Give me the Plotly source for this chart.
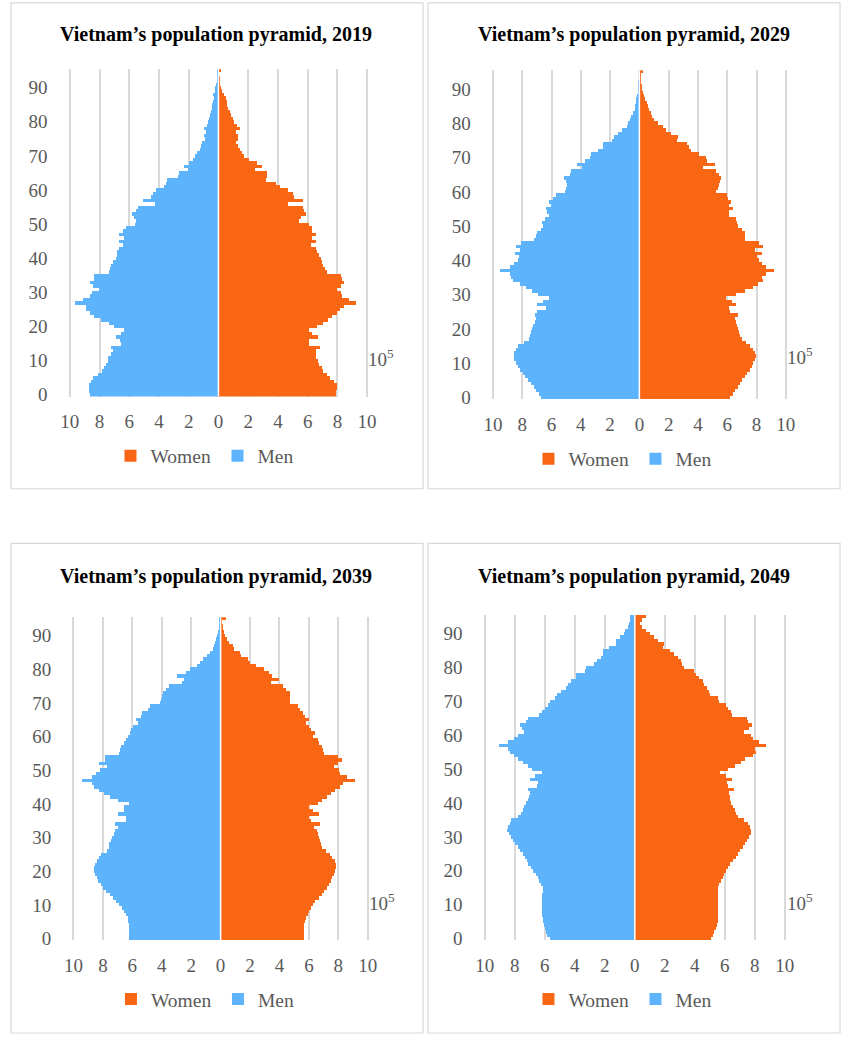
import plotly.graph_objects as go

# ---------------- data (units of 10^5 persons), ages 0..95 ----------------
ages = list(range(96))

men_2019 = [
    8.65, 8.70, 8.72, 8.70, 8.55, 8.40, 8.06, 7.78, 7.67, 7.56,
    7.44, 7.40, 7.22, 7.10, 7.22, 6.52, 6.60, 6.90, 6.52, 6.30,
    7.00, 7.33, 7.88, 8.33, 8.60, 8.87, 8.90, 9.65, 9.10, 8.60,
    8.50, 8.00, 8.43, 8.65, 8.33, 8.33, 7.33, 7.27, 7.22, 7.10,
    6.90, 6.83, 6.78, 6.67, 6.40, 6.67, 6.34, 6.67, 6.40, 6.20,
    5.60, 5.50, 5.64, 5.80, 5.50, 5.42, 4.25, 5.07, 4.54, 4.36,
    4.18, 3.66, 3.48, 3.44, 2.70, 2.64, 2.05, 2.33, 1.98, 1.67,
    1.56, 1.39, 1.23, 1.17, 1.06, 0.88, 0.95, 0.84, 0.95, 0.73,
    0.66, 0.62, 0.55, 0.50, 0.44, 0.40, 0.35, 0.29, 0.33, 0.22,
    0.18, 0.13, 0.11, 0.07, 0.05, 0.05,
]
women_2019 = [
    7.93, 7.95, 8.00, 8.00, 7.78, 7.55, 7.33, 7.07, 6.96, 6.78,
    6.74, 6.60, 6.56, 6.60, 6.83, 6.12, 6.08, 6.74, 6.34, 6.08,
    6.67, 7.07, 7.40, 7.67, 8.00, 8.22, 8.50, 9.25, 8.77, 8.33,
    8.28, 8.00, 8.28, 8.50, 8.33, 8.28, 7.33, 7.22, 7.07, 6.96,
    6.90, 6.78, 6.67, 6.56, 6.23, 6.56, 6.30, 6.60, 6.30, 6.34,
    6.08, 5.46, 5.57, 5.90, 5.79, 5.68, 4.69, 5.68, 5.13, 5.02,
    4.69, 4.14, 3.88, 3.22, 3.26, 3.26, 2.49, 2.93, 2.60, 2.05,
    1.72, 1.60, 1.45, 1.34, 1.23, 1.32, 1.32, 1.17, 1.45, 1.28,
    1.10, 1.01, 0.88, 0.79, 0.68, 0.62, 0.57, 0.55, 0.40, 0.29,
    0.18, 0.11, 0.09, 0.07, 0.05, 0.18,
]
men_2029 = [
    6.73, 6.90, 7.07, 7.23, 7.45, 7.63, 7.83, 8.00, 8.19, 8.34,
    8.46, 8.57, 8.61, 8.57, 8.46, 8.34, 7.90, 7.60, 7.52, 7.45,
    7.34, 7.27, 7.16, 7.07, 7.16, 7.00, 6.44, 7.00, 6.62, 6.22,
    6.94, 7.34, 7.79, 8.17, 8.64, 8.79, 8.84, 9.53, 8.90, 8.57,
    8.34, 8.23, 8.50, 8.19, 8.46, 8.15, 7.20, 7.10, 7.00, 6.75,
    6.65, 6.67, 6.49, 6.22, 6.33, 6.40, 6.04, 6.22, 5.95, 5.73,
    5.10, 5.06, 5.00, 5.06, 5.20, 4.77, 4.70, 3.94, 4.32, 3.72,
    3.42, 3.31, 2.86, 2.53, 2.53, 1.92, 1.74, 1.48, 1.25, 0.90,
    0.80, 0.67, 0.58, 0.45, 0.36, 0.34, 0.27, 0.25, 0.20, 0.13,
    0.11, 0.09, 0.07, 0.05, 0.04, 0.03,
]
women_2029 = [
    6.17, 6.35, 6.51, 6.69, 6.85, 7.00, 7.18, 7.34, 7.52, 7.63,
    7.74, 7.85, 7.90, 7.85, 7.70, 7.52, 7.25, 6.96, 6.85, 6.80,
    6.73, 6.62, 6.55, 6.51, 6.73, 6.17, 6.10, 6.60, 6.29, 5.91,
    6.58, 7.18, 7.74, 8.08, 8.41, 8.37, 8.59, 9.19, 8.64, 8.37,
    8.14, 7.97, 8.37, 7.85, 8.41, 8.14, 7.18, 7.20, 7.18, 6.96,
    6.73, 6.62, 6.58, 6.06, 6.06, 6.35, 6.06, 6.22, 6.00, 5.95,
    5.23, 5.32, 5.39, 5.46, 5.55, 5.39, 5.17, 4.34, 5.10, 4.56,
    4.50, 4.05, 3.49, 3.38, 3.22, 2.55, 2.60, 2.10, 1.81, 1.59,
    1.25, 0.98, 0.85, 0.76, 0.63, 0.58, 0.47, 0.36, 0.31, 0.22,
    0.18, 0.13, 0.11, 0.09, 0.07, 0.22,
]
men_2039 = [
    6.23, 6.23, 6.23, 6.23, 6.23, 6.27, 6.32, 6.43, 6.56, 6.72,
    6.90, 7.10, 7.32, 7.54, 7.78, 7.98, 8.16, 8.31, 8.43, 8.54,
    8.60, 8.60, 8.56, 8.43, 8.27, 8.12, 7.72, 7.61, 7.56, 7.43,
    7.38, 7.27, 7.16, 7.00, 7.15, 6.40, 6.45, 7.00, 6.55, 6.60,
    6.20, 7.00, 7.50, 7.90, 8.25, 8.60, 8.75, 9.40, 8.76, 8.50,
    8.20, 7.75, 8.25, 7.85, 7.85, 6.90, 6.83, 6.76, 6.60, 6.45,
    6.27, 6.16, 6.10, 5.94, 5.60, 5.72, 5.43, 5.34, 4.94, 4.83,
    4.10, 4.06, 4.01, 3.95, 3.73, 3.50, 2.62, 2.50, 2.95, 2.33,
    2.06, 1.62, 1.40, 1.22, 0.95, 0.73, 0.55, 0.47, 0.40, 0.29,
    0.22, 0.18, 0.13, 0.11, 0.07, 0.11,
]
women_2039 = [
    5.65, 5.65, 5.65, 5.65, 5.65, 5.72, 5.81, 5.92, 6.03, 6.14,
    6.25, 6.43, 6.65, 6.87, 7.03, 7.20, 7.36, 7.47, 7.58, 7.69,
    7.80, 7.85, 7.85, 7.76, 7.58, 7.40, 7.14, 6.92, 6.80, 6.74,
    6.70, 6.59, 6.52, 6.36, 6.74, 6.14, 6.03, 6.65, 6.25, 5.99,
    6.59, 6.92, 7.25, 7.47, 7.76, 8.10, 8.29, 9.13, 8.58, 8.14,
    8.07, 7.69, 7.98, 8.25, 7.98, 7.03, 6.98, 6.87, 6.70, 6.59,
    6.30, 6.43, 6.14, 6.03, 5.81, 6.03, 5.70, 5.59, 5.41, 5.25,
    4.70, 4.74, 4.70, 4.74, 4.43, 4.26, 3.44, 3.99, 3.48, 3.26,
    2.93, 2.37, 2.00, 1.88, 1.37, 1.33, 0.93, 0.82, 0.60, 0.44,
    0.31, 0.22, 0.16, 0.13, 0.11, 0.33,
]
men_2049 = [
    5.66, 5.81, 5.92, 5.98, 6.05, 6.09, 6.12, 6.14, 6.14, 6.14,
    6.16, 6.16, 6.16, 6.14, 6.12, 6.12, 6.24, 6.37, 6.46, 6.59,
    6.75, 6.90, 7.07, 7.18, 7.33, 7.46, 7.62, 7.77, 7.94, 8.09,
    8.24, 8.40, 8.50, 8.44, 8.32, 8.20, 7.75, 7.54, 7.46, 7.35,
    7.24, 7.07, 7.02, 6.98, 7.13, 6.48, 6.41, 6.98, 6.63, 6.15,
    6.80, 7.07, 7.46, 7.78, 8.00, 8.33, 8.43, 9.02, 8.43, 8.00,
    7.78, 7.35, 7.50, 7.60, 7.24, 7.13, 6.37, 6.15, 5.98, 5.76,
    5.61, 5.28, 5.17, 4.89, 4.59, 4.41, 4.24, 3.93, 3.87, 3.33,
    3.22, 2.67, 2.50, 2.24, 2.13, 2.07, 1.70, 1.26, 1.20, 0.98,
    0.72, 0.61, 0.46, 0.39, 0.28, 0.28,
]
women_2049 = [
    5.09, 5.22, 5.33, 5.41, 5.48, 5.54, 5.59, 5.59, 5.59, 5.59,
    5.59, 5.59, 5.59, 5.59, 5.59, 5.59, 5.65, 5.74, 5.87, 5.96,
    6.09, 6.24, 6.39, 6.57, 6.74, 6.89, 7.04, 7.22, 7.37, 7.50,
    7.65, 7.76, 7.80, 7.72, 7.54, 7.33, 6.89, 6.78, 6.67, 6.57,
    6.46, 6.39, 6.35, 6.30, 6.61, 6.24, 6.17, 6.52, 6.13, 5.70,
    6.24, 6.67, 7.11, 7.39, 7.87, 8.09, 8.04, 8.78, 8.30, 7.87,
    7.76, 7.33, 7.65, 7.83, 7.54, 7.48, 6.52, 6.46, 6.24, 6.09,
    5.65, 5.59, 5.04, 5.00, 4.83, 4.61, 4.57, 4.28, 4.07, 3.96,
    3.30, 3.20, 3.09, 2.91, 2.65, 2.39, 1.89, 2.00, 1.57, 1.30,
    1.02, 0.80, 0.52, 0.37, 0.52, 0.74,
]

years = ["2019", "2029", "2039", "2049"]
men_series = [men_2019, men_2029, men_2039, men_2049]
women_series = [women_2019, women_2029, women_2039, women_2049]
x_tick_values = list(range(-10, 11, 2))
x_tick_labels = [str(abs(v)) for v in x_tick_values]
y_tick_values = list(range(0, 91, 10))

for s in men_series + women_series:
    assert len(s) == len(ages)

# ---------------- styling / layout ----------------
W, H = 850, 1044
ORANGE = "#F96614"
BLUE = "#5EB4FC"
GRID = "#D9D9D9"
TICK = "#595959"
FONT = "Liberation Serif, Times New Roman, serif"

# page-pixel geometry of each panel (±10 gridlines, bar area top/bottom, text anchors, border box)
geom = [
    dict(px=(63.0, 366.0), py=(69.4, 400.0), title=(212, 35), legend=(213.5, 460), exp=(365, 361), box=(3, 3, 423, 493)),
    dict(px=(494.3, 792.7), py=(70.9, 402.7), title=(638, 35), legend=(639.5, 463), exp=(792, 359), box=(428, 3, 848, 493)),
    dict(px=(66.7, 366.7), py=(622.6, 948.4), title=(212, 582), legend=(214, 1008), exp=(366, 910), box=(3, 548, 423, 1042)),
    dict(px=(486.0, 791.7), py=(620.2, 948.4), title=(638, 582), legend=(639.5, 1008), exp=(792, 910), box=(428, 548, 848, 1042)),
]
PAD = 0.1  # extra range beyond ±10 so edge gridlines are drawn


def fx(p):
    return p / W


def fy(p):
    return 1 - p / H


fig = go.Figure()
layout = dict(
    width=W, height=H, margin=dict(l=0, r=0, t=0, b=0),
    paper_bgcolor="white", plot_bgcolor="white",
    barmode="relative", bargap=0,
    font=dict(family=FONT, color=TICK, size=19),
    showlegend=True,
)
annotations = []
shapes = []

for i, (yr, men, women, g) in enumerate(zip(years, men_series, women_series, geom), start=1):
    sfx = "" if i == 1 else str(i)
    xa, ya = "x" + sfx, "y" + sfx
    lg = "legend" + sfx

    fig.add_trace(go.Bar(
        y=ages, x=women, orientation="h", name="Women",
        marker=dict(color=ORANGE, line=dict(width=0)),
        xaxis=xa, yaxis=ya, legend=lg, width=1,
    ))
    fig.add_trace(go.Bar(
        y=ages, x=[-v for v in men], orientation="h", name="Men",
        marker=dict(color=BLUE, line=dict(width=0)),
        xaxis=xa, yaxis=ya, legend=lg, width=1,
        customdata=men, hovertemplate="%{customdata}<extra>Men</extra>",
    ))

    x0, x1 = g["px"]
    unit = (x1 - x0) / 20.0
    top, bot = g["py"]

    layout["xaxis" + sfx] = dict(
        domain=[fx(x0 - PAD * unit), fx(x1 + PAD * unit)], range=[-10 - PAD, 10 + PAD], anchor=ya,
        tickvals=x_tick_values, ticktext=x_tick_labels,
        showgrid=True, gridcolor=GRID, gridwidth=1.6, zeroline=False, showline=False,
        ticks="outside", ticklen=8, tickcolor="rgba(0,0,0,0)",
        tickfont=dict(family=FONT, size=19, color=TICK), fixedrange=True,
    )
    layout["yaxis" + sfx] = dict(
        domain=[fy(bot), fy(top)], range=[-0.5, 95.5], anchor=xa,
        tickvals=y_tick_values, showgrid=False, zeroline=False, showline=False,
        ticks="outside", ticklen=16, tickcolor="rgba(0,0,0,0)",
        tickfont=dict(family=FONT, size=19, color=TICK), fixedrange=True,
    )
    layout[lg] = dict(
        orientation="h", x=fx(g["legend"][0]), y=fy(g["legend"][1]),
        xanchor="center", yanchor="middle", bgcolor="rgba(0,0,0,0)",
        font=dict(family=FONT, size=19.5, color=TICK), traceorder="normal",
        itemwidth=30, entrywidthmode="pixels", entrywidth=62,
    )

    annotations.append(dict(
        text="<b>Vietnam’s population pyramid, %s</b>" % yr,
        x=fx(g["title"][0]), y=fy(g["title"][1]), xref="paper", yref="paper",
        xanchor="center", yanchor="middle", showarrow=False,
        font=dict(family=FONT, size=20, color="black"),
    ))
    annotations.append(dict(
        text="10<sup>5</sup>",
        x=fx(g["exp"][0]), y=fy(g["exp"][1]), xref="paper", yref="paper",
        xanchor="left", yanchor="middle", showarrow=False,
        font=dict(family=FONT, size=19, color=TICK),
    ))
    # white separator at zero
    shapes.append(dict(
        type="line", xref=xa, yref=ya, x0=0, x1=0, y0=-0.5, y1=95.5,
        line=dict(color="white", width=1.5), layer="above",
    ))
    # panel border
    bx0, by0, bx1, by1 = g["box"]
    shapes.append(dict(
        type="rect", xref="paper", yref="paper",
        x0=fx(bx0), x1=fx(bx1), y0=fy(by1), y1=fy(by0),
        line=dict(color=GRID, width=1.2), fillcolor="rgba(0,0,0,0)", layer="below",
    ))

layout["annotations"] = annotations
layout["shapes"] = shapes
fig.update_layout(**layout)

# remove the default 8px page margin so the 850x1044 figure fills the window exactly
fig.write_html(
    "out.html",
    config={"displayModeBar": False},
    post_script="document.body.style.margin='0';document.body.style.overflow='hidden';",
)
